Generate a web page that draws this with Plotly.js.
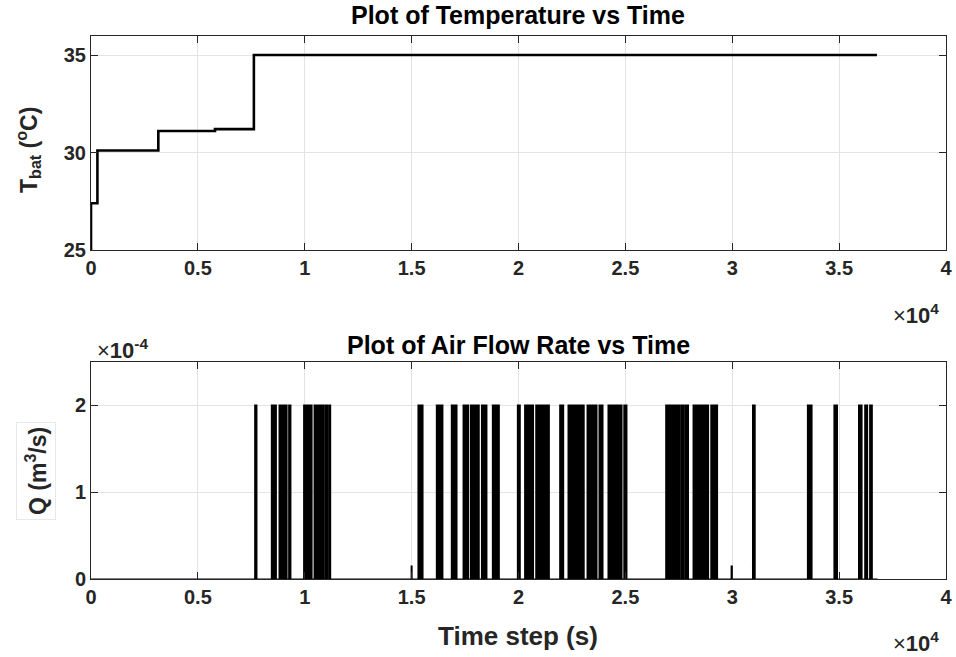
<!DOCTYPE html>
<html>
<head>
<meta charset="utf-8">
<script src="https://cdn.plot.ly/plotly-3.0.1.min.js"></script>
<style>html,body{margin:0;padding:0;background:#fff;}#chart{width:956px;height:657px;}</style>
</head>
<body>
<div id="chart"></div>
<script>
// ---- Temperature (step changes), time in seconds ----
const tempTime = [0, 0, 300, 3150, 5800, 7620, 36770];
const tempValue = [25, 27.4, 30.1, 31.1, 31.2, 35.0, 35.0];

// ---- Air flow pulses (seconds, m^3/s) ----
const pulseStart = [7670, 8450, 8810, 9000, 9260, 9960, 10130, 10450, 10710, 10950, 11130, 14990,
  15310, 16170, 16870, 17420, 17760, 18280, 18790, 19960, 20300, 20820, 21050, 21940, 22330,
  23220, 23780, 24200, 24940, 26900, 27600, 27790, 28180, 29010, 29190, 29960, 30960, 33530,
  34770, 35920, 36210, 36440];
const pulseEnd = [7750, 8660, 8960, 9160, 9340, 10100, 10330, 10640, 10870, 11050, 11200, 15010,
  15520, 16450, 17110, 17650, 18150, 18510, 19090, 20070, 20690, 21010, 21430, 22100, 23060,
  23660, 23940, 24830, 25060, 27520, 27710, 27940, 28880, 29120, 29300, 29990, 31060, 33720,
  34910, 36060, 36320, 36540];
const pulseLevel = [2e-4, 2e-4, 2e-4, 2e-4, 2e-4, 2e-4, 2e-4, 2e-4, 2e-4, 2e-4, 2e-4, 0.15e-4,
  2e-4, 2e-4, 2e-4, 2e-4, 2e-4, 2e-4, 2e-4, 2e-4, 2e-4, 2e-4, 2e-4, 2e-4, 2e-4,
  2e-4, 2e-4, 2e-4, 2e-4, 2e-4, 2e-4, 2e-4, 2e-4, 2e-4, 2e-4, 0.15e-4, 2e-4, 2e-4,
  2e-4, 2e-4, 2e-4, 2e-4];
const flowEndTime = 36800;

// ---- Tick labels ----
const xTickVals = [0, 5000, 10000, 15000, 20000, 25000, 30000, 35000, 40000];
const xTickText = ['0', '0.5', '1', '1.5', '2', '2.5', '3', '3.5', '4'];
const tTickVals = [25, 30, 35];
const tTickText = ['25', '30', '35'];
const qTickVals = [0, 1e-4, 2e-4];
const qTickText = ['0', '1', '2'];

// build step trace for flow from the pulse list
const qx = [0], qy = [0];
for (let i = 0; i < pulseStart.length; i++) {
  qx.push(pulseStart[i], pulseStart[i], pulseEnd[i], pulseEnd[i]);
  qy.push(0, pulseLevel[i], pulseLevel[i], 0);
}
qx.push(flowEndTime); qy.push(0);

const FONT = 'Liberation Sans, Arial, Helvetica, sans-serif';
const TXT = '#262626';

const traces = [
  {x: tempTime, y: tempValue, type: 'scatter', mode: 'lines', line: {color: '#000', width: 2.6, shape: 'hv'},
   xaxis: 'x', yaxis: 'y', hoverinfo: 'skip'},
  {x: qx, y: qy, type: 'scatter', mode: 'lines', line: {color: '#000', width: 1.6},
   fill: 'tozeroy', fillcolor: '#000',
   xaxis: 'x2', yaxis: 'y2', hoverinfo: 'skip'}
];

const axisCommon = {
  showline: true, linecolor: TXT, linewidth: 1, mirror: 'ticks',
  ticks: 'inside', ticklen: 7, tickcolor: TXT, tickwidth: 1,
  showgrid: true, gridcolor: '#e3e3e3', gridwidth: 1, zeroline: false,
  tickfont: {family: FONT, size: 20, color: TXT, weight: 'bold'}, fixedrange: true
};

const xdom = [91/956, 946/956];
const layout = {
  width: 956, height: 657,
  margin: {l: 0, r: 0, t: 0, b: 0},
  paper_bgcolor: '#fff', plot_bgcolor: '#fff', showlegend: false,
  xaxis: Object.assign({}, axisCommon, {domain: xdom, range: [0, 40000], tickvals: xTickVals, ticktext: xTickText, anchor: 'y'}),
  yaxis: Object.assign({}, axisCommon, {domain: [(657-250)/657, (657-35.5)/657], range: [25, 36], tickvals: tTickVals, ticktext: tTickText, anchor: 'x'}),
  xaxis2: Object.assign({}, axisCommon, {domain: xdom, range: [0, 40000], tickvals: xTickVals, ticktext: xTickText, anchor: 'y2'}),
  yaxis2: Object.assign({}, axisCommon, {domain: [(657-579.3)/657, (657-361.8)/657], range: [0, 2.5e-4], tickvals: qTickVals, ticktext: qTickText, anchor: 'x2'}),
  annotations: [
    {text: '<b>Plot of Temperature vs Time</b>', xref: 'paper', yref: 'paper', x: 518/956, y: (657-15)/657,
     showarrow: false, font: {family: FONT, size: 25, color: '#000'}, xanchor: 'center', yanchor: 'middle'},
    {text: '<b>Plot of Air Flow Rate vs Time</b>', xref: 'paper', yref: 'paper', x: 518/956, y: (657-345)/657,
     showarrow: false, font: {family: FONT, size: 25, color: '#000'}, xanchor: 'center', yanchor: 'middle'},
    {text: '<b>Time step (s)</b>', xref: 'paper', yref: 'paper', x: 518/956, y: (657-636)/657,
     showarrow: false, font: {family: FONT, size: 26, color: TXT}, xanchor: 'center', yanchor: 'middle'},
    {text: '<b>T<sub>bat</sub> (<sup>o</sup>C)</b>', xref: 'paper', yref: 'paper', x: 28/956, y: (657-150)/657,
     showarrow: false, textangle: -90, font: {family: FONT, size: 23, color: TXT}, xanchor: 'center', yanchor: 'middle'},
    {text: '<b>Q (m<sup>3</sup>/s)</b>', xref: 'paper', yref: 'paper', x: 36/956, y: (657-471)/657,
     showarrow: false, textangle: -90, font: {family: FONT, size: 23, color: TXT}, xanchor: 'center', yanchor: 'middle',
     bordercolor: '#e8e8e8', borderwidth: 1, borderpad: 4, bgcolor: '#fff'},
    {text: '×<b>10<sup>4</sup></b>', xref: 'paper', yref: 'paper', x: 916/956, y: (657-314)/657,
     showarrow: false, font: {family: FONT, size: 22, color: TXT}, xanchor: 'center', yanchor: 'middle'},
    {text: '×<b>10<sup>4</sup></b>', xref: 'paper', yref: 'paper', x: 916/956, y: (657-642)/657,
     showarrow: false, font: {family: FONT, size: 22, color: TXT}, xanchor: 'center', yanchor: 'middle'},
    {text: '×<b>10<sup>-4</sup></b>', xref: 'paper', yref: 'paper', x: 123/956, y: (657-349)/657,
     showarrow: false, font: {family: FONT, size: 22, color: TXT}, xanchor: 'center', yanchor: 'middle'}
  ]
};

Plotly.newPlot('chart', traces, layout, {staticPlot: true, displayModeBar: false});
</script>
</body>
</html>
